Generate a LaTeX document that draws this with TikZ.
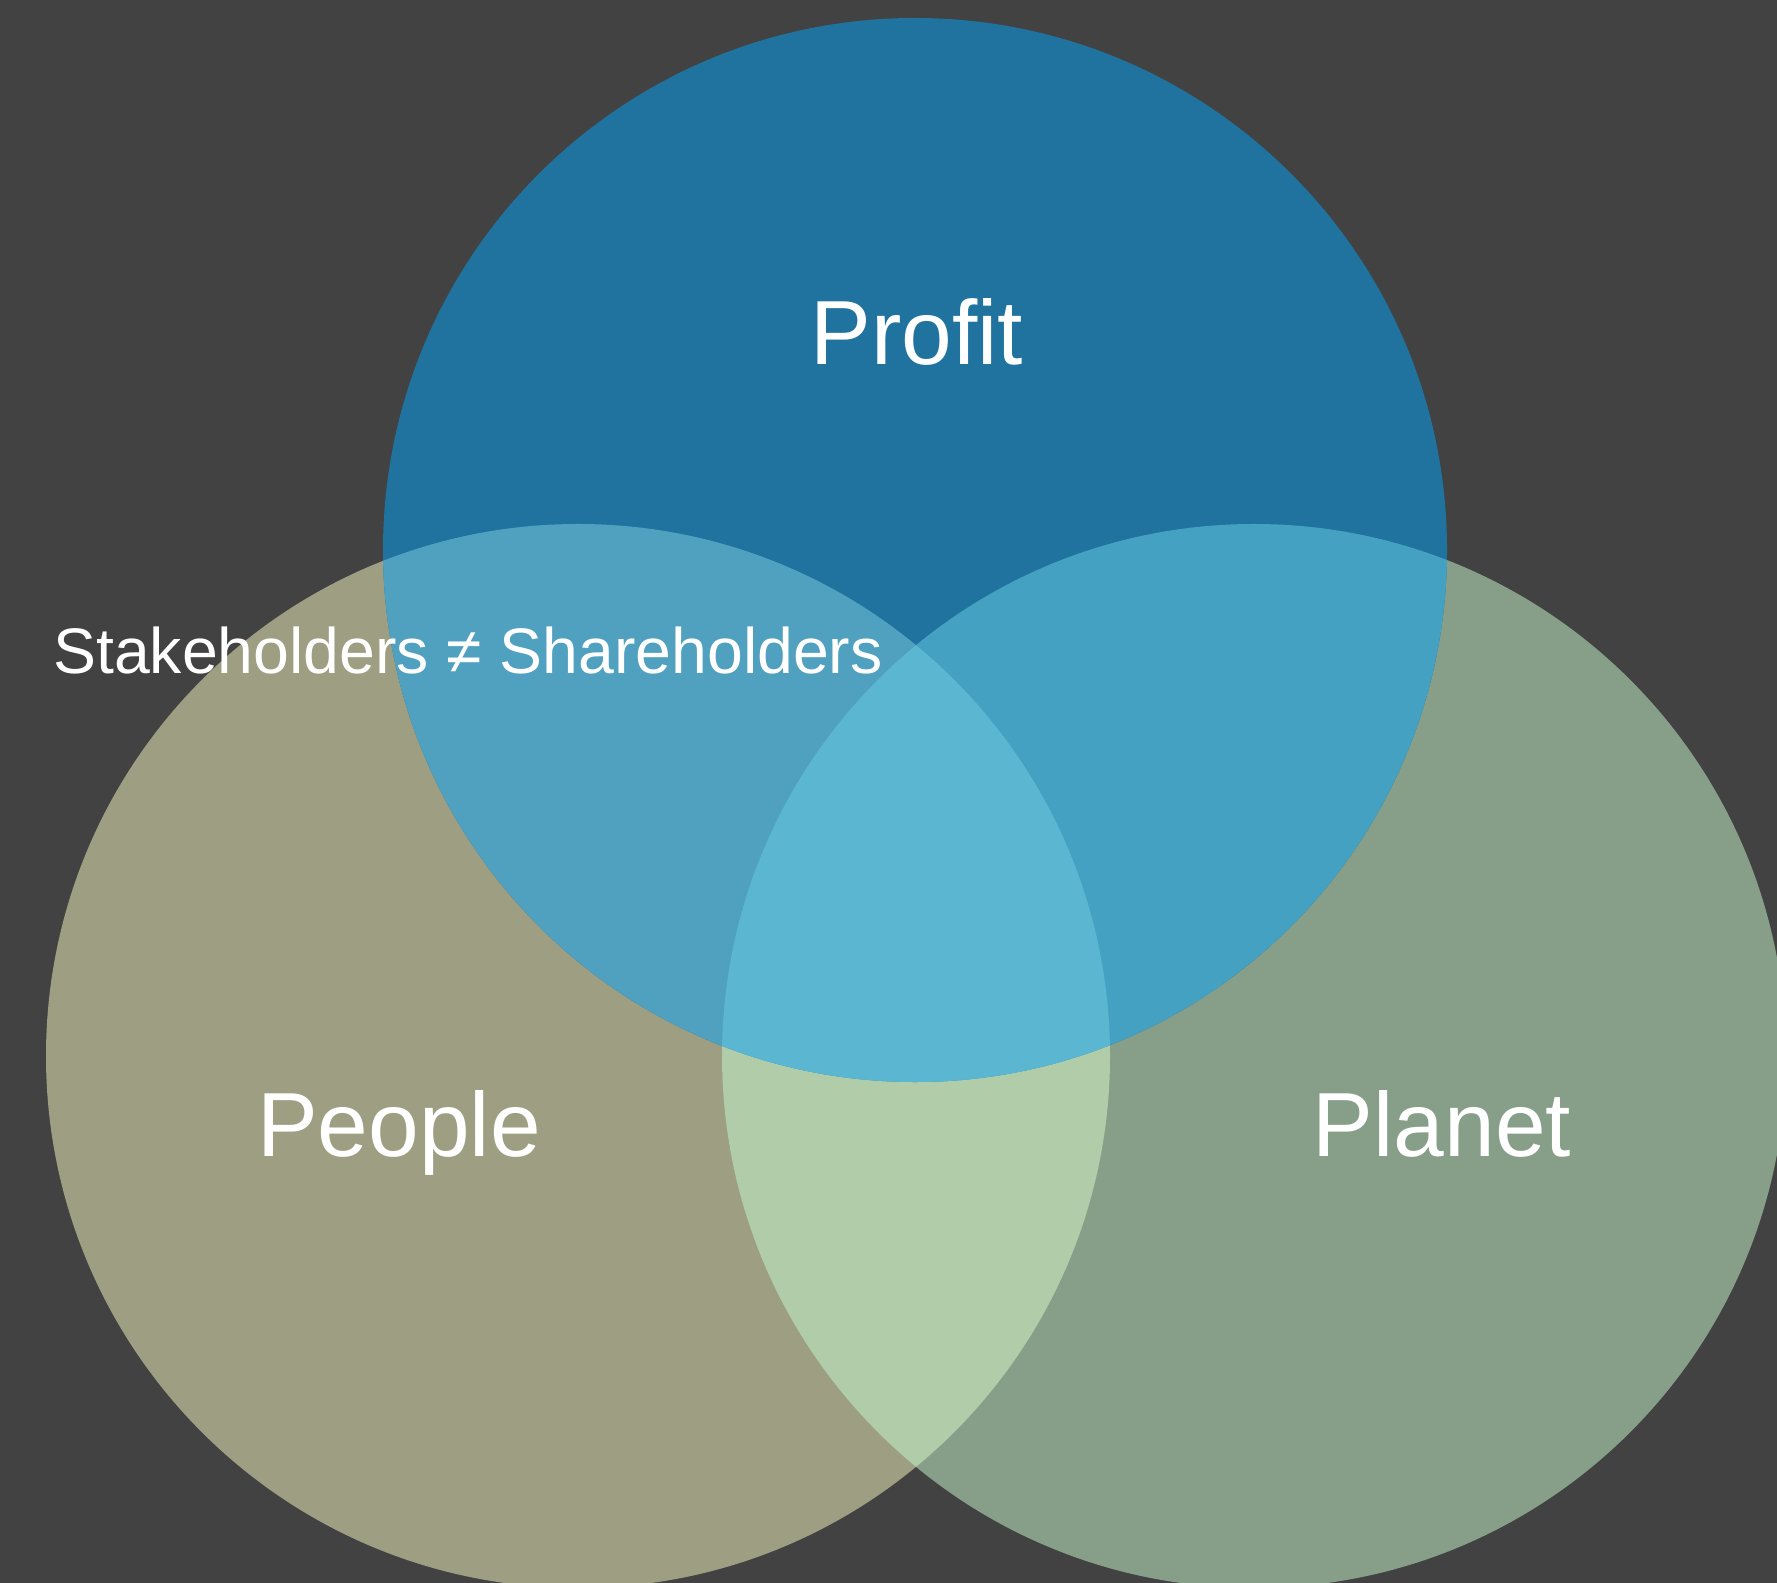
\documentclass[tikz,border=0pt]{standalone}
\usepackage{fontspec}
\setmainfont{Liberation Sans}
\definecolor{bgcol}{HTML}{424242}
\definecolor{profitcol}{HTML}{21739F}
\definecolor{peoplecol}{HTML}{9E9E82}
\definecolor{planetcol}{HTML}{879F88}
\definecolor{peopleprofit}{HTML}{50A1BF}
\definecolor{planetprofit}{HTML}{44A1C2}
\definecolor{peopleplanet}{HTML}{B1CCA8}
\definecolor{allthree}{HTML}{5BB7D1}
\tikzset{every node/.style={draw=none,inner sep=0pt,anchor=base,text=white},
  biglabel/.style={font=\fontsize{25.9}{31}\selectfont},
  smalllabel/.style={font=\fontsize{18.3}{22}\selectfont}}

\begin{document}
\begin{tikzpicture}[x=0.01cm,y=-0.01cm]
      \fill[bgcol] (0,0) rectangle (1777,1583);
      \useasboundingbox (0,0) rectangle (1777,1583);
      \coordinate (pr) at (915,550);
      \coordinate (pe) at (578,1056);
      \coordinate (pl) at (1254,1056);

      \fill[peoplecol] (pe) circle (532);
      \fill[planetcol] (pl) circle (532);
      \fill[profitcol] (pr) circle (532);
      \begin{scope}
        \clip (pe) circle (532);
        \fill[peopleplanet] (pl) circle (532);
        \fill[peopleprofit] (pr) circle (532);
      \end{scope}
      \begin{scope}
        \clip (pl) circle (532);
        \fill[planetprofit] (pr) circle (532);
        \clip (pe) circle (532);
        \fill[allthree] (pr) circle (532);
      \end{scope}

      \node[biglabel] (profit) at (917,365) {Profit};
      \node[biglabel] (people) at (399,1156) {People};
      \node[biglabel] (planet) at (1442,1156) {Planet};
      \node[smalllabel] (stake) at (468,674) {Stakeholders ≠ Shareholders};
\end{tikzpicture}
\end{document}
